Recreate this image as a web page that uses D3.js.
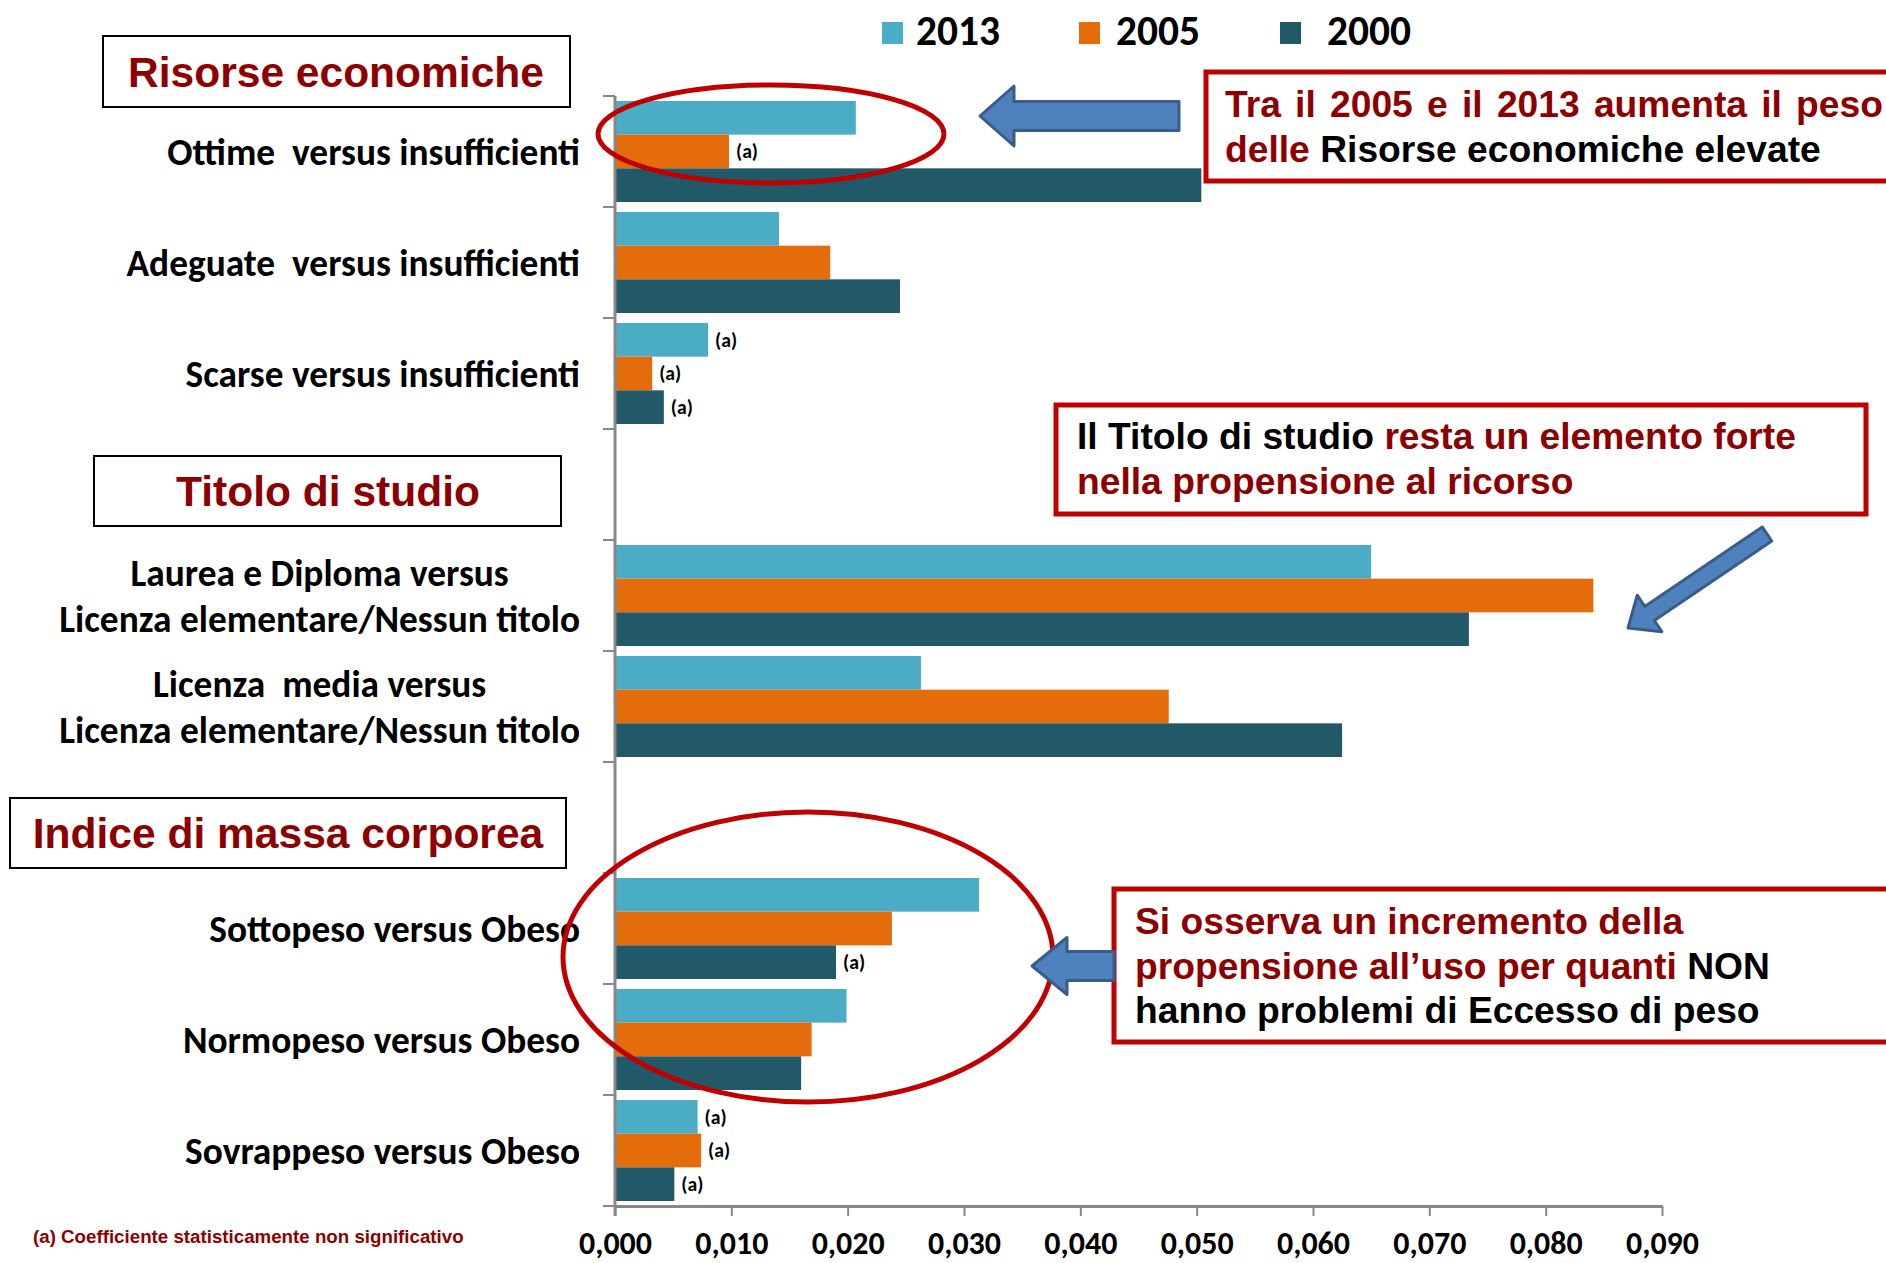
<!DOCTYPE html>
<html>
<head>
<meta charset="utf-8">
<script src="https://cdn.jsdelivr.net/npm/d3@7"></script>
<style>
  body { margin: 0; background: #fff; }
  svg { display: block; }
  svg text { white-space: pre; }
</style>
</head>
<body>
<svg id="chart"></svg>
<script>
// categories (two empty slots hold the group headers)
const categories = ['ottime', 'adeguate', 'scarse', 'gap1', 'laurea', 'media', 'gap2', 'sottopeso', 'normopeso', 'sovrappeso'];
const categoryLabels = [
    ['Ottime  versus insufficienti'],
    ['Adeguate  versus insufficienti'],
    ['Scarse versus insufficienti'],
    [],
    ['Laurea e Diploma versus', 'Licenza elementare/Nessun titolo'],
    ['Licenza  media versus', 'Licenza elementare/Nessun titolo'],
    [],
    ['Sottopeso versus Obeso'],
    ['Normopeso versus Obeso'],
    ['Sovrappeso versus Obeso']
];
const years = ['2013', '2005', '2000'];
const values2013 = [0.0207, 0.0141, 0.0080, null, 0.0650, 0.0263, null, 0.0313, 0.0199, 0.0071];
const values2005 = [0.0098, 0.0185, 0.0032, null, 0.0841, 0.0476, null, 0.0238, 0.0169, 0.0074];
const values2000 = [0.0504, 0.0245, 0.0042, null, 0.0734, 0.0625, null, 0.0190, 0.0160, 0.0051];
// (a) = coefficient not significant
const notSig2013 = [false, false, true, false, false, false, false, false, false, true];
const notSig2005 = [true, false, true, false, false, false, false, false, false, true];
const notSig2000 = [false, false, true, false, false, false, false, true, false, true];
const xTickValues = [0, 0.01, 0.02, 0.03, 0.04, 0.05, 0.06, 0.07, 0.08, 0.09];
const groupTitles = ['Risorse economiche', 'Titolo di studio', 'Indice di massa corporea'];
const footnote = '(a) Coefficiente statisticamente non significativo';
// callout lines: [text, isDarkRed]
const callout1 = [
    [['Tra il 2005 e il 2013 aumenta il peso', true]],
    [['delle ', true], ['Risorse economiche elevate', false]]
];
const callout2 = [
    [['Il Titolo di studio ', false], ['resta un elemento forte', true]],
    [['nella propensione al ricorso', true]]
];
const callout3 = [
    [['Si osserva un incremento della', true]],
    [['propensione all\u2019uso per quanti ', true], ['NON', false]],
    [['hanno problemi di Eccesso di peso', false]]
];

const colors = { '2013': '#4BACC6', '2005': '#E46C0A', '2000': '#215968' };
const darkRed = '#8E0000';
const boxRed = '#C00000';
const calibri = "Carlito, Calibri, Lato, 'Open Sans', sans-serif";
const arial = "'Liberation Sans', Arial, sans-serif";

const W = 1886, H = 1263;
const svg = d3.select('#chart').attr('width', W).attr('height', H);

// pick a font size so that a sample string gets the width seen in the picture
function fitSize(family, sample, target) {
    const t = svg.append('text')
        .attr('font-family', family)
        .attr('font-weight', 'bold')
        .attr('font-size', 100)
        .text(sample);
    const w = t.node().getComputedTextLength();
    t.remove();
    return 100 * target / w;
}

const catSize = fitSize(calibri, 'Licenza elementare/Nessun titolo', 521);
const tickSize = fitSize(calibri, '0,000', 73);
const legendSize = fitSize(calibri, '2005', 84);
const noteSize = fitSize(calibri, '(a)', 22);
const headerSize = fitSize(arial, 'Titolo di studio', 304);
const calloutSize = fitSize(arial, 'delle Risorse economiche elevate', 596);
const footSize = fitSize(arial, footnote, 431);

// scales
const x = d3.scaleLinear().domain([0, 0.09]).range([615, 1662]);
const y = d3.scaleBand().domain(categories).range([96, 1206])
    .paddingInner(0.09).paddingOuter(0.045);
const ySub = d3.scaleBand().domain(years).range([0, y.bandwidth()]);

const seriesValues = { '2013': values2013, '2005': values2005, '2000': values2000 };
const seriesFlags = { '2013': notSig2013, '2005': notSig2005, '2000': notSig2000 };

const barData = [];
categories.forEach((c, i) => {
    years.forEach(yr => {
        const v = seriesValues[yr][i];
        if (v != null) barData.push({ cat: c, year: yr, value: v, flag: seriesFlags[yr][i] });
    });
});

// bars
const bars = svg.append('g');
bars.selectAll('rect')
    .data(barData)
    .enter()
    .append('rect')
    .attr('x', x(0))
    .attr('y', d => y(d.cat) + ySub(d.year))
    .attr('width', d => x(d.value) - x(0))
    .attr('height', ySub.bandwidth())
    .attr('fill', d => colors[d.year]);

// (a) marks
bars.selectAll('text')
    .data(barData.filter(d => d.flag))
    .enter()
    .append('text')
    .attr('x', d => x(d.value) + 7)
    .attr('y', d => y(d.cat) + ySub(d.year) + ySub.bandwidth() / 2)
    .attr('dy', '0.35em')
    .attr('font-family', calibri)
    .attr('font-weight', 'bold')
    .attr('font-size', noteSize)
    .attr('fill', '#000')
    .text('(a)');

// x axis
const fmt = d3.formatLocale({ decimal: ',', thousands: '.', grouping: [3], currency: ['', '€'] }).format('.3f');
const xAxis = svg.append('g')
    .attr('transform', `translate(0, ${y.range()[1]})`)
    .call(d3.axisBottom(x).tickValues(xTickValues).tickSize(10).tickSizeOuter(0).tickFormat(fmt));
xAxis.select('.domain').attr('stroke', '#878787').attr('stroke-width', 3);
xAxis.selectAll('.tick line').attr('stroke', '#878787').attr('stroke-width', 2);
xAxis.selectAll('.tick text')
    .attr('y', 48)
    .attr('dy', 0)
    .attr('fill', '#000')
    .attr('font-family', calibri)
    .attr('font-weight', 'bold')
    .attr('font-size', tickSize);

// y axis: line plus ticks between categories
const yAxis = svg.append('g');
yAxis.append('line')
    .attr('x1', x(0)).attr('x2', x(0))
    .attr('y1', y.range()[0]).attr('y2', y.range()[1] + 10)
    .attr('stroke', '#878787').attr('stroke-width', 3);
yAxis.selectAll('line.tick')
    .data(d3.range(categories.length + 1))
    .enter()
    .append('line')
    .attr('class', 'tick')
    .attr('x1', x(0) - 12).attr('x2', x(0))
    .attr('y1', i => y.range()[0] + i * y.step())
    .attr('y2', i => y.range()[0] + i * y.step())
    .attr('stroke', '#878787').attr('stroke-width', 2);

// category labels (multi line ones are centred as a block, block right edge at 580)
const labelRight = 580;
const lineH = 46;
categories.forEach((c, i) => {
    const lines = categoryLabels[i];
    if (!lines.length) return;
    const cy = y(c) + y.bandwidth() / 2;
    const t = svg.append('text')
        .attr('font-family', calibri)
        .attr('font-weight', 'bold')
        .attr('font-size', catSize)
        .attr('fill', '#000');
    lines.forEach((l, j) => {
        t.append('tspan')
            .attr('y', cy + (j - (lines.length - 1) / 2) * lineH)
            .attr('dy', '0.35em')
            .text(l);
    });
    const widths = [];
    t.selectAll('tspan').each(function () { widths.push(this.getComputedTextLength()); });
    const maxW = d3.max(widths);
    t.attr('text-anchor', 'middle');
    t.selectAll('tspan').attr('x', labelRight - maxW / 2);
});

// legend
const legendPos = [{ sq: 882, tx: 916 }, { sq: 1079, tx: 1116 }, { sq: 1280, tx: 1327 }];
const legend = svg.append('g');
years.forEach((yr, i) => {
    legend.append('rect')
        .attr('x', legendPos[i].sq).attr('y', 22)
        .attr('width', 21).attr('height', 22)
        .attr('fill', colors[yr]);
    legend.append('text')
        .attr('x', legendPos[i].tx).attr('y', 45)
        .attr('font-family', calibri)
        .attr('font-weight', 'bold')
        .attr('font-size', legendSize)
        .text(yr);
});

// group header boxes
const headerBoxes = [
    { x: 103, y: 36, w: 467, h: 71, cx: 336, by: 87 },
    { x: 94, y: 456, w: 467, h: 70, cx: 328, by: 506 },
    { x: 10, y: 798, w: 556, h: 70, cx: 288, by: 848 }
];
headerBoxes.forEach((b, i) => {
    svg.append('rect')
        .attr('x', b.x).attr('y', b.y).attr('width', b.w).attr('height', b.h)
        .attr('fill', '#fff').attr('stroke', '#000').attr('stroke-width', 2);
    svg.append('text')
        .attr('x', b.cx).attr('y', b.by)
        .attr('text-anchor', 'middle')
        .attr('font-family', arial)
        .attr('font-weight', 'bold')
        .attr('font-size', headerSize)
        .attr('fill', darkRed)
        .text(groupTitles[i]);
});

// ellipses round the highlighted bars
svg.append('ellipse')
    .attr('cx', 771).attr('cy', 134).attr('rx', 173).attr('ry', 49)
    .attr('fill', 'none').attr('stroke', boxRed).attr('stroke-width', 5);
svg.append('ellipse')
    .attr('cx', 808).attr('cy', 957).attr('rx', 245).attr('ry', 145)
    .attr('fill', 'none').attr('stroke', boxRed).attr('stroke-width', 5);

// callout boxes
function callout(box, lines, tx, baselines, justifyWidth) {
    svg.append('rect')
        .attr('x', box.x).attr('y', box.y).attr('width', box.w).attr('height', box.h)
        .attr('fill', '#fff').attr('stroke', boxRed).attr('stroke-width', 5);
    lines.forEach((segs, j) => {
        const t = svg.append('text')
            .attr('x', tx).attr('y', baselines[j])
            .attr('font-family', arial)
            .attr('font-weight', 'bold')
            .attr('font-size', calloutSize);
        segs.forEach(s => {
            t.append('tspan').attr('fill', s[1] ? darkRed : '#000').text(s[0]);
        });
        if (justifyWidth && j === 0) {
            const w = t.node().getComputedTextLength();
            const spaces = segs.map(s => s[0]).join('').split(' ').length - 1;
            t.attr('word-spacing', (justifyWidth - w) / spaces);
        }
    });
}
callout({ x: 1206, y: 72, w: 700, h: 109 }, callout1, 1225, [117, 162], 658);
callout({ x: 1056, y: 405, w: 810, h: 109 }, callout2, 1077, [449, 494]);
callout({ x: 1114, y: 889, w: 800, h: 153 }, callout3, 1135, [934, 979, 1023]);

// block arrows
function arrowPath(tail, tip, shaftW, headW, headL) {
    const dx = tip[0] - tail[0], dy = tip[1] - tail[1];
    const len = Math.hypot(dx, dy);
    const ux = dx / len, uy = dy / len;
    const nx = -uy, ny = ux;
    const bx = tip[0] - ux * headL, by = tip[1] - uy * headL;
    const pts = [
        [tail[0] + nx * shaftW / 2, tail[1] + ny * shaftW / 2],
        [bx + nx * shaftW / 2, by + ny * shaftW / 2],
        [bx + nx * headW / 2, by + ny * headW / 2],
        tip,
        [bx - nx * headW / 2, by - ny * headW / 2],
        [bx - nx * shaftW / 2, by - ny * shaftW / 2],
        [tail[0] - nx * shaftW / 2, tail[1] - ny * shaftW / 2]
    ];
    return 'M' + pts.map(p => p.join(',')).join('L') + 'Z';
}
const arrows = [
    arrowPath([1179, 116], [980, 116], 29, 60, 34),
    arrowPath([1767, 534], [1628, 628], 17, 44, 26),
    arrowPath([1114, 966], [1032, 966], 29, 57, 35)
];
svg.selectAll('path.arrow')
    .data(arrows)
    .enter()
    .append('path')
    .attr('class', 'arrow')
    .attr('d', d => d)
    .attr('fill', '#4F81BD')
    .attr('stroke', '#385D8A')
    .attr('stroke-width', 3)
    .attr('stroke-linejoin', 'round');

// footnote
svg.append('text')
    .attr('x', 33).attr('y', 1243)
    .attr('font-family', arial)
    .attr('font-weight', 'bold')
    .attr('font-size', footSize)
    .attr('fill', darkRed)
    .text(footnote);
</script>
</body>
</html>
